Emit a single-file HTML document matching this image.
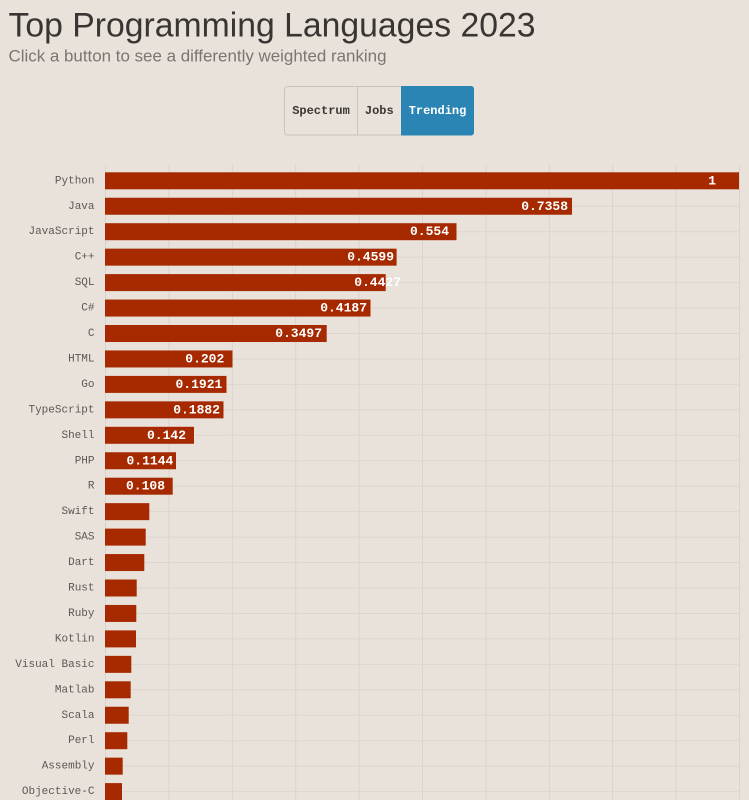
<!DOCTYPE html>
<html><head><meta charset="utf-8"><style>
html,body{margin:0;padding:0;background:#e9e2da;}
svg{display:block;}
</style></head><body>
<svg width="749" height="800" viewBox="0 0 749 800" xmlns="http://www.w3.org/2000/svg">
<rect width="749" height="800" fill="#e9e2da"/>
<text x="8.5" y="36.7" font-family="Liberation Sans, sans-serif" font-size="34.5" fill="#393533" textLength="527" lengthAdjust="spacingAndGlyphs">Top Programming Languages 2023</text>
<text x="8.5" y="61.7" font-family="Liberation Sans, sans-serif" font-size="17" fill="#7a7570" textLength="378" lengthAdjust="spacingAndGlyphs">Click a button to see a differently weighted ranking</text>
<rect x="284.5" y="86.5" width="189" height="48.5" rx="3" fill="#e9e2da" stroke="#cbc3ba"/>
<path d="M401 86 H471 A3 3 0 0 1 474 89 V132.5 A3 3 0 0 1 471 135.5 H401 Z" fill="#2b85b4"/>
<line x1="357.5" y1="86.5" x2="357.5" y2="135" stroke="#cbc3ba"/>
<g font-family="Liberation Mono, monospace" font-size="12" font-weight="bold" text-anchor="middle">
<text x="321" y="114" fill="#3a3633">Spectrum</text>
<text x="379.3" y="114" fill="#3a3633">Jobs</text>
<text x="437.5" y="114" fill="#ffffff">Trending</text>
</g>
<g stroke="#dcd4cc" stroke-width="1">
<line x1="105.5" y1="165" x2="105.5" y2="800"/>
<line x1="168.9" y1="165" x2="168.9" y2="800"/>
<line x1="232.3" y1="165" x2="232.3" y2="800"/>
<line x1="295.7" y1="165" x2="295.7" y2="800"/>
<line x1="359.1" y1="165" x2="359.1" y2="800"/>
<line x1="422.5" y1="165" x2="422.5" y2="800"/>
<line x1="485.9" y1="165" x2="485.9" y2="800"/>
<line x1="549.3" y1="165" x2="549.3" y2="800"/>
<line x1="612.7" y1="165" x2="612.7" y2="800"/>
<line x1="676.1" y1="165" x2="676.1" y2="800"/>
<line x1="739.5" y1="165" x2="739.5" y2="800"/>
</g>
<g stroke="#ddd6ce" stroke-width="1">
<line x1="105" x2="739" y1="180.8" y2="180.8"/>
<line x1="105" x2="739" y1="206.25" y2="206.25"/>
<line x1="105" x2="739" y1="231.7" y2="231.7"/>
<line x1="105" x2="739" y1="257.15" y2="257.15"/>
<line x1="105" x2="739" y1="282.6" y2="282.6"/>
<line x1="105" x2="739" y1="308.05" y2="308.05"/>
<line x1="105" x2="739" y1="333.5" y2="333.5"/>
<line x1="105" x2="739" y1="358.95" y2="358.95"/>
<line x1="105" x2="739" y1="384.4" y2="384.4"/>
<line x1="105" x2="739" y1="409.85" y2="409.85"/>
<line x1="105" x2="739" y1="435.3" y2="435.3"/>
<line x1="105" x2="739" y1="460.75" y2="460.75"/>
<line x1="105" x2="739" y1="486.2" y2="486.2"/>
<line x1="105" x2="739" y1="511.65" y2="511.65"/>
<line x1="105" x2="739" y1="537.1" y2="537.1"/>
<line x1="105" x2="739" y1="562.55" y2="562.55"/>
<line x1="105" x2="739" y1="588" y2="588"/>
<line x1="105" x2="739" y1="613.45" y2="613.45"/>
<line x1="105" x2="739" y1="638.9" y2="638.9"/>
<line x1="105" x2="739" y1="664.35" y2="664.35"/>
<line x1="105" x2="739" y1="689.8" y2="689.8"/>
<line x1="105" x2="739" y1="715.25" y2="715.25"/>
<line x1="105" x2="739" y1="740.7" y2="740.7"/>
<line x1="105" x2="739" y1="766.15" y2="766.15"/>
<line x1="105" x2="739" y1="791.6" y2="791.6"/>
</g>
<g fill="#a62900">
<rect x="105" y="172.3" width="634" height="17"/>
<rect x="105" y="197.75" width="467" height="17"/>
<rect x="105" y="223.2" width="351.5" height="17"/>
<rect x="105" y="248.65" width="291.6" height="17"/>
<rect x="105" y="274.1" width="280.7" height="17"/>
<rect x="105" y="299.55" width="265.5" height="17"/>
<rect x="105" y="325" width="221.7" height="17"/>
<rect x="105" y="350.45" width="127.5" height="17"/>
<rect x="105" y="375.9" width="121.5" height="17"/>
<rect x="105" y="401.35" width="118.5" height="17"/>
<rect x="105" y="426.8" width="89" height="17"/>
<rect x="105" y="452.25" width="71" height="17"/>
<rect x="105" y="477.7" width="67.7" height="17"/>
<rect x="105" y="503.15" width="44.3" height="17"/>
<rect x="105" y="528.6" width="40.7" height="17"/>
<rect x="105" y="554.05" width="39.3" height="17"/>
<rect x="105" y="579.5" width="31.7" height="17"/>
<rect x="105" y="604.95" width="31.3" height="17"/>
<rect x="105" y="630.4" width="31" height="17"/>
<rect x="105" y="655.85" width="26.3" height="17"/>
<rect x="105" y="681.3" width="25.7" height="17"/>
<rect x="105" y="706.75" width="23.7" height="17"/>
<rect x="105" y="732.2" width="22.3" height="17"/>
<rect x="105" y="757.65" width="17.7" height="17"/>
<rect x="105" y="783.1" width="17" height="17"/>
</g>
<g font-family="Liberation Mono, monospace" font-size="11" fill="#5d5855" text-anchor="end">
<text x="94.5" y="183.3">Python</text>
<text x="94.5" y="208.75">Java</text>
<text x="94.5" y="234.2">JavaScript</text>
<text x="94.5" y="259.65">C++</text>
<text x="94.5" y="285.1">SQL</text>
<text x="94.5" y="310.55">C#</text>
<text x="94.5" y="336">C</text>
<text x="94.5" y="361.45">HTML</text>
<text x="94.5" y="386.9">Go</text>
<text x="94.5" y="412.35">TypeScript</text>
<text x="94.5" y="437.8">Shell</text>
<text x="94.5" y="463.25">PHP</text>
<text x="94.5" y="488.7">R</text>
<text x="94.5" y="514.15">Swift</text>
<text x="94.5" y="539.6">SAS</text>
<text x="94.5" y="565.05">Dart</text>
<text x="94.5" y="590.5">Rust</text>
<text x="94.5" y="615.95">Ruby</text>
<text x="94.5" y="641.4">Kotlin</text>
<text x="94.5" y="666.85">Visual Basic</text>
<text x="94.5" y="692.3">Matlab</text>
<text x="94.5" y="717.75">Scala</text>
<text x="94.5" y="743.2">Perl</text>
<text x="94.5" y="768.65">Assembly</text>
<text x="94.5" y="794.1">Objective-C</text>
</g>
<g font-family="Liberation Mono, monospace" font-size="13" font-weight="bold" fill="#ffffff" text-anchor="end">
<text x="716" y="184.3">1</text>
<text x="568" y="209.75">0.7358</text>
<text x="449" y="235.2">0.554</text>
<text x="394" y="260.65">0.4599</text>
<text x="401" y="286.1">0.4427</text>
<text x="367" y="311.55">0.4187</text>
<text x="322" y="337">0.3497</text>
<text x="224.3" y="362.45">0.202</text>
<text x="222.3" y="387.9">0.1921</text>
<text x="220" y="413.35">0.1882</text>
<text x="186" y="438.8">0.142</text>
<text x="173.3" y="464.25">0.1144</text>
<text x="165" y="489.7">0.108</text>
</g>
</svg>
</body></html>
